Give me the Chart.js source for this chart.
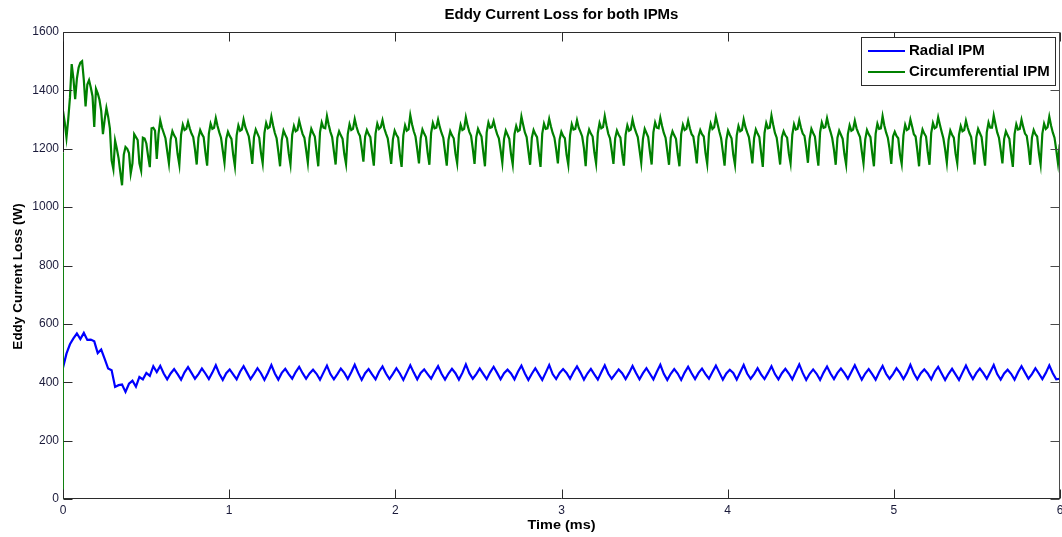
<!DOCTYPE html>
<html><head><meta charset="utf-8">
<script src="https://cdn.jsdelivr.net/npm/chart.js@4.4.0/dist/chart.umd.min.js"></script>
<style>html,body{margin:0;padding:0;background:#fff;overflow:hidden}canvas{display:block}</style>
</head><body>
<canvas id="c" width="1062" height="537"></canvas>
<script>
// sampling intervals of the recorded waveforms (ms)
const RADIAL_SAMPLE_MS = 0.0209;
const CIRC_SAMPLE_MS = 0.01045;

const chartTitle = 'Eddy Current Loss for both IPMs';
const xTitle = 'Time (ms)';
const yTitle = 'Eddy Current Loss (W)';
const seriesNames = ['Radial IPM', 'Circumferential IPM'];
const xTicks = [0, 1, 2, 3, 4, 5, 6];
const yTicks = [0, 200, 400, 600, 800, 1000, 1200, 1400, 1600];

// Radial IPM eddy current loss (W)
const radialIPM = [
 450,498,530,550,567,548,569,545,546,540,500,512,480,447,441,384,390,392,367,395,405,385,418,410,432,422,455,435,
 456,430,410,430,445,428,409,434,
 452,432,412,428,447,430,411,433,
 458,429,408,431,444,427,410,436,
 455,433,411,429,448,431,408,432,
 459,430,409,432,446,428,412,435,
 453,431,412,430,443,429,409,433,
 457,428,410,428,447,432,411,434,
 460,432,408,431,445,427,410,436,
 454,430,411,429,448,430,408,433,
 458,433,410,432,444,428,412,435,
 455,429,409,430,446,431,409,432,
 461,431,412,428,447,429,411,434,
 453,432,410,431,443,430,410,436,
 457,430,408,429,448,428,408,433,
 459,428,411,432,445,432,412,435,
 454,433,409,430,446,427,409,434,
 458,430,412,428,444,431,411,432,
 456,432,410,431,448,429,410,436,
 460,429,408,429,445,430,408,433,
 453,431,411,432,447,428,412,435,
 457,433,409,430,443,432,409,434,
 459,430,412,428,448,427,411,432,
 455,428,410,431,446,430,410,436,
 461,432,408,429,444,429,408,433,
 454,430,411,432,447,431,412,435,
 458,433,409,430,445,428,409,434,
 456,429,412,428,448,432,411,432,
 460,431,410,431,444,430,410,436,
 453,430,408,429,446,427,408,433,
 457,432,411,432,447,431,412,435,
 459,428,409,430,443,429,409,434,
 455,433,412,428,448,430,411,432,
 458,431,410,412
];

// Circumferential IPM eddy current loss (W)
const circumferentialIPM = [
 1330,1290,1238,1300,1375,1490,1440,1370,1440,1478,1495,1500,1435,1345,1420,1435,1410,1380,1275,1405,
 1390,1368,1330,1250,1300,1340,1310,1270,1160,1130,1228,1200,1168,1120,1075,1180,1206,1200,1185,1115,
 1150,1250,1240,1230,1150,1125,1238,1235,1218,1175,1137,1270,1272,1262,1165,1250,
 1297,1272,1254,1236,1192,1150,1232,1260,1246,1236,1182,1145,1248,1282,1264,1268,
 1292,1270,1252,1240,1198,1146,1238,1264,1250,1240,1188,1142,1252,1286,1268,1272,
 1305,1278,1256,1238,1194,1152,1234,1258,1244,1234,1180,1140,1246,1280,1262,1266,
 1300,1274,1258,1242,1200,1148,1240,1266,1252,1238,1186,1150,1254,1288,1270,1274,
 1310,1280,1254,1236,1190,1140,1230,1262,1248,1236,1184,1146,1248,1278,1260,1264,
 1296,1272,1250,1238,1196,1152,1236,1268,1254,1242,1190,1140,1256,1290,1272,1270,
 1312,1282,1258,1240,1192,1146,1238,1260,1246,1234,1182,1148,1250,1284,1264,1268,
 1302,1276,1256,1244,1202,1156,1242,1264,1250,1240,1188,1142,1252,1286,1268,1274,
 1298,1270,1252,1236,1194,1148,1232,1262,1248,1238,1180,1138,1246,1280,1262,1266,
 1315,1284,1260,1242,1198,1150,1236,1266,1252,1240,1186,1145,1254,1288,1270,1272,
 1300,1274,1254,1238,1190,1142,1230,1260,1246,1236,1184,1150,1248,1282,1264,1268,
 1308,1280,1258,1244,1200,1148,1240,1268,1254,1242,1190,1140,1256,1290,1272,1274,
 1295,1270,1250,1236,1196,1152,1234,1262,1248,1234,1182,1146,1250,1278,1260,1264,
 1310,1282,1256,1240,1192,1145,1238,1264,1250,1240,1186,1138,1252,1286,1268,1270,
 1302,1276,1254,1238,1198,1150,1232,1258,1244,1236,1180,1145,1246,1284,1266,1268,
 1298,1272,1258,1242,1202,1140,1240,1266,1252,1242,1188,1150,1254,1288,1270,1274,
 1312,1280,1252,1236,1194,1148,1236,1262,1248,1238,1184,1142,1248,1280,1262,1266,
 1300,1274,1256,1240,1196,1152,1234,1268,1254,1240,1190,1146,1256,1290,1272,1270,
 1306,1278,1254,1238,1192,1145,1238,1260,1246,1234,1182,1140,1250,1282,1264,1268,
 1296,1270,1250,1242,1200,1150,1242,1264,1250,1242,1186,1148,1252,1286,1268,1274,
 1310,1284,1258,1236,1190,1142,1230,1262,1248,1236,1180,1145,1246,1278,1260,1264,
 1300,1274,1256,1240,1198,1150,1236,1266,1252,1240,1188,1138,1254,1288,1270,1272,
 1314,1282,1254,1238,1194,1146,1240,1260,1246,1238,1184,1150,1248,1284,1266,1268,
 1298,1272,1252,1244,1202,1152,1234,1268,1254,1242,1190,1142,1256,1290,1272,1274,
 1305,1278,1258,1236,1196,1145,1238,1262,1248,1234,1182,1146,1250,1280,1262,1266,
 1296,1270,1254,1240,1192,1150,1232,1264,1250,1240,1186,1140,1252,1286,1268,1270,
 1312,1280,1256,1238,1200,1148,1242,1258,1244,1236,1180,1148,1246,1282,1264,1268,
 1300,1276,1250,1242,1194,1140,1236,1266,1252,1242,1188,1145,1254,1288,1270,1274,
 1308,1282,1258,1236,1198,1152,1230,1262,1248,1238,1184,1150,1248,1278,1260,1264,
 1296,1272,1254,1240,1190,1146,1240,1268,1254,1240,1190,1142,1256,1290,1272,1272,
 1314,1284,1256,1238,1196,1150,1234,1260,1246,1234,1182,1138,1250,1284,1266,1268,
 1300,1274,1252,1244,1202,1145,1238,1264,1250,1242,1186,1146,1252,1286,1268,1274,
 1310,1280,1256,1238,1196,1150,1215
];

const toPoints = (arr, dt) => arr.map((v, i) => ({ x: i * dt, y: v }));
const FONT = '"Liberation Sans", Arial, sans-serif';
const STRETCH = 1.07;

const decor = {
  id: 'decor',
  afterDraw(chart) {
    const { ctx, chartArea: a, scales: { x, y } } = chart;
    const L = Math.round(a.left) + 0.5, R = Math.round(a.right) - 0.5;
    const T = Math.round(a.top) + 0.5, B = Math.round(a.bottom) - 0.5;
    const line = (x1, y1, x2, y2, c) => { ctx.strokeStyle = c; ctx.beginPath(); ctx.moveTo(x1, y1); ctx.lineTo(x2, y2); ctx.stroke(); };
    const wideText = (t, cx, cy, align) => {
      ctx.save(); ctx.translate(cx, cy); ctx.scale(STRETCH, 1);
      ctx.textAlign = align; ctx.fillText(t, 0, 0); ctx.restore();
    };
    ctx.save();
    ctx.lineWidth = 1;
    // frame
    line(L, T, R, T, '#2b2b2b');
    line(R, T, R, B, '#4a4a4a');
    line(L - 0.5, B, R + 0.5, B, '#2b2b2b');
    const split = Math.round(y.getPixelForValue(1190)) + 0.5;
    line(L, T, L, split, '#1a1a1a');
    line(L, split, L, B, '#108010');
    // inward ticks
    xTicks.forEach(v => {
      const px = Math.round(x.getPixelForValue(v)) + 0.5;
      line(px, B, px, B - 9, '#2b2b2b');
      line(px, T, px, T + 9, '#2b2b2b');
    });
    yTicks.forEach(v => {
      const py = Math.round(y.getPixelForValue(v)) + 0.5;
      line(L, py, L + 9, py, '#2b2b2b');
      line(R, py, R - 9, py, '#4a4a4a');
    });
    // title and axis titles
    ctx.fillStyle = '#000';
    ctx.textBaseline = 'middle';
    ctx.font = 'bold 14px ' + FONT;
    wideText(chartTitle, (a.left + a.right) / 2, 15, 'center');
    ctx.font = 'bold 13.5px ' + FONT;
    wideText(xTitle, (a.left + a.right) / 2, 525, 'center');
    ctx.save();
    ctx.translate(18, (a.top + a.bottom) / 2 + 11);
    ctx.rotate(-Math.PI / 2);
    ctx.textAlign = 'center';
    ctx.font = 'bold 13.5px ' + FONT;
    ctx.fillText(yTitle, 0, 0);
    ctx.restore();
    // legend
    const bx = 861.5, by = 37.5, bw = 194, bh = 48;
    ctx.fillStyle = '#fff';
    ctx.fillRect(bx, by, bw, bh);
    ctx.strokeStyle = '#2b2b2b';
    ctx.strokeRect(bx, by, bw, bh);
    ctx.font = 'bold 14px ' + FONT;
    chart.data.datasets.forEach((ds, i) => {
      const ly = 51 + i * 21;
      ctx.lineWidth = 2;
      line(868, ly, 905, ly, ds.borderColor);
      ctx.fillStyle = '#000';
      wideText(ds.label, 909, ly + 0.5, 'left');
    });
    ctx.restore();
  }
};

new Chart(document.getElementById('c').getContext('2d'), {
  type: 'line',
  data: {
    datasets: [
      { label: seriesNames[0], data: toPoints(radialIPM, RADIAL_SAMPLE_MS), borderColor: '#0000ff', borderWidth: 2.2, pointRadius: 0, tension: 0, fill: false },
      { label: seriesNames[1], data: toPoints(circumferentialIPM, CIRC_SAMPLE_MS), borderColor: '#008000', borderWidth: 2.2, pointRadius: 0, tension: 0, fill: false }
    ]
  },
  options: {
    responsive: false,
    animation: false,
    events: [],
    layout: { padding: { top: 32, right: 2, left: 0, bottom: 0 } },
    plugins: { legend: { display: false }, title: { display: false }, tooltip: { enabled: false } },
    scales: {
      x: {
        type: 'linear', min: 0, max: 6,
        afterBuildTicks: s => { s.ticks = xTicks.map(v => ({ value: v })); },
        afterFit: s => { s.height = 38; s.paddingLeft = 0; s.paddingRight = 0; },
        ticks: { font: { family: FONT, size: 12 }, color: '#1a1a3a', padding: 4, maxRotation: 0, autoSkip: false, callback: v => String(v) },
        grid: { display: false, drawTicks: false, tickLength: 0 },
        border: { display: false }
      },
      y: {
        type: 'linear', min: 0, max: 1600,
        afterBuildTicks: s => { s.ticks = yTicks.map(v => ({ value: v })); },
        afterFit: s => { s.width = 63; },
        ticks: { font: { family: FONT, size: 12 }, color: '#1a1a3a', padding: 4, autoSkip: false, callback: v => String(v) },
        grid: { display: false, drawTicks: false, tickLength: 0 },
        border: { display: false }
      }
    }
  },
  plugins: [decor]
});
</script>
</body></html>
